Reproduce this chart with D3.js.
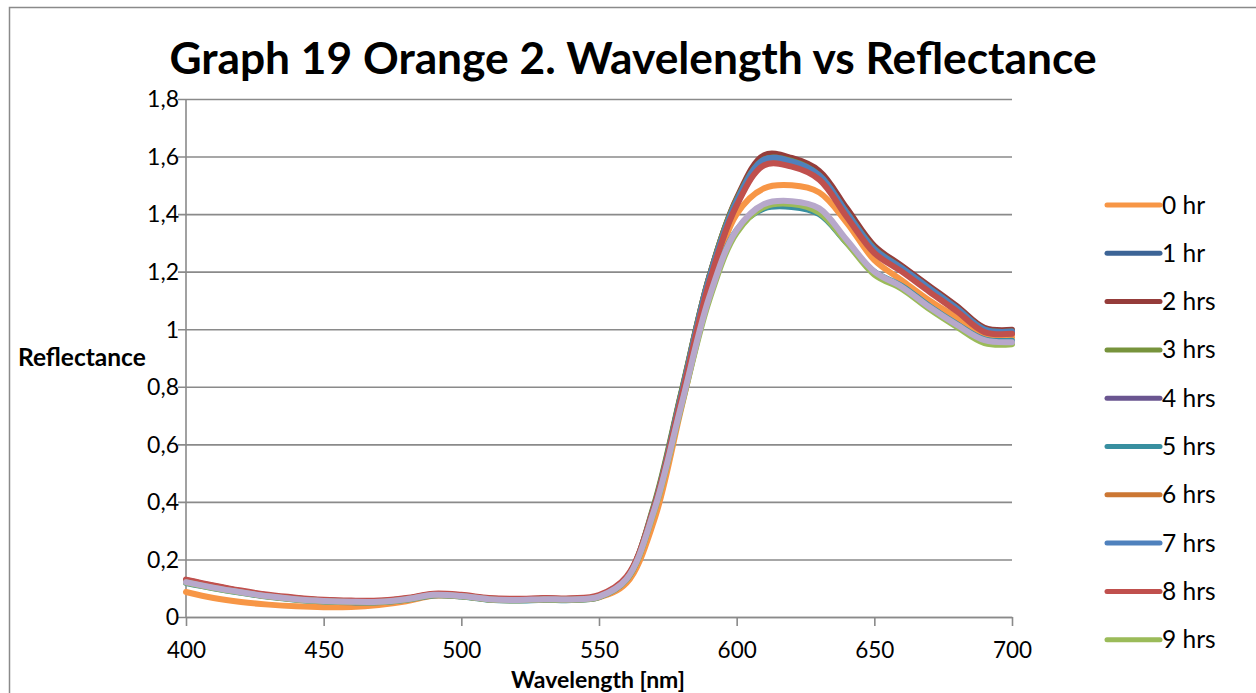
<!DOCTYPE html>
<html><head><meta charset="utf-8">
<script src="https://cdn.jsdelivr.net/npm/d3@7"></script>
<style>
html,body{margin:0;padding:0;background:#fff;}
svg{display:block;}
text{font-family:Lato, "Open Sans", sans-serif;fill:#000;}
</style></head>
<body><svg id="chart" width="1256" height="693"></svg>
<script>
const wavelengths = [400,410,420,430,440,450,460,470,480,490,500,510,520,530,540,550,560,570,580,590,600,610,620,630,640,650,660,670,680,690,700];
const seriesNames = ["0 hr","1 hr","2 hrs","3 hrs","4 hrs","5 hrs","6 hrs","7 hrs","8 hrs","9 hrs","10 hrs"];
const legendNames = ["0 hr","1 hr","2 hrs","3 hrs","4 hrs","5 hrs","6 hrs","7 hrs","8 hrs","9 hrs"];
const hr0 = [0.087,0.066,0.052,0.043,0.037,0.034,0.035,0.042,0.055,0.074,0.072,0.061,0.058,0.061,0.060,0.068,0.118,0.335,0.73,1.12,1.40,1.49,1.50,1.475,1.37,1.24,1.17,1.10,1.04,0.975,0.972];
const hr1 = [0.126,0.106,0.089,0.074,0.064,0.057,0.054,0.054,0.063,0.078,0.074,0.063,0.060,0.063,0.062,0.072,0.135,0.385,0.78,1.18,1.45,1.595,1.588,1.54,1.41,1.283,1.215,1.145,1.075,1.0,0.993];
const hr2 = [0.128,0.108,0.09,0.075,0.065,0.058,0.055,0.055,0.064,0.079,0.075,0.064,0.061,0.064,0.063,0.073,0.135,0.38,0.78,1.18,1.455,1.605,1.595,1.55,1.42,1.29,1.22,1.15,1.08,1.005,0.998];
const hr3 = [0.125,0.105,0.088,0.073,0.063,0.056,0.053,0.053,0.062,0.077,0.073,0.062,0.059,0.062,0.061,0.071,0.135,0.39,0.785,1.18,1.45,1.59,1.585,1.535,1.405,1.28,1.212,1.142,1.072,0.999,0.992];
const hr4 = [0.125,0.105,0.088,0.073,0.063,0.057,0.054,0.054,0.063,0.078,0.074,0.063,0.060,0.063,0.062,0.072,0.135,0.38,0.77,1.17,1.44,1.585,1.580,1.530,1.400,1.275,1.210,1.140,1.070,0.997,0.990];
const hr5 = [0.118,0.1,0.084,0.07,0.06,0.054,0.051,0.051,0.06,0.075,0.071,0.06,0.057,0.06,0.059,0.069,0.13,0.37,0.74,1.11,1.345,1.42,1.425,1.40,1.30,1.20,1.15,1.08,1.018,0.965,0.96];
const hr6 = [0.124,0.104,0.087,0.072,0.062,0.056,0.053,0.053,0.062,0.077,0.073,0.062,0.059,0.062,0.061,0.071,0.133,0.375,0.765,1.165,1.435,1.575,1.572,1.525,1.395,1.27,1.205,1.135,1.066,0.993,0.986];
const hr7 = [0.126,0.106,0.089,0.074,0.064,0.057,0.054,0.054,0.063,0.078,0.074,0.063,0.060,0.063,0.062,0.072,0.135,0.38,0.775,1.175,1.445,1.59,1.583,1.535,1.405,1.278,1.212,1.142,1.072,0.999,0.992];
const hr8 = [0.13,0.11,0.092,0.077,0.067,0.06,0.057,0.057,0.066,0.081,0.077,0.066,0.063,0.066,0.065,0.076,0.14,0.38,0.765,1.16,1.43,1.57,1.565,1.52,1.39,1.265,1.2,1.13,1.062,0.99,0.984];
const hr9 = [0.12,0.101,0.085,0.071,0.061,0.055,0.052,0.052,0.061,0.076,0.072,0.061,0.058,0.061,0.06,0.07,0.131,0.365,0.735,1.10,1.335,1.425,1.435,1.405,1.30,1.19,1.14,1.07,1.008,0.952,0.948];
const hr10 = [0.121,0.102,0.086,0.072,0.062,0.056,0.053,0.053,0.062,0.077,0.073,0.062,0.059,0.062,0.061,0.071,0.132,0.37,0.74,1.11,1.345,1.435,1.445,1.42,1.31,1.20,1.147,1.077,1.015,0.962,0.955];
const seriesValues = [hr0,hr1,hr2,hr3,hr4,hr5,hr6,hr7,hr8,hr9,hr10];
const colors = ["#F79646","#3C6496","#953C3A","#77933C","#6A5590","#388FA0","#CC7733","#4F81BD","#C0504D","#9BBB59","#B7A8CB"];
const yTicks = [0,0.2,0.4,0.6,0.8,1,1.2,1.4,1.6,1.8];
const xTicks = [400,450,500,550,600,650,700];
const titleText = "Graph 19 Orange 2. Wavelength vs Reflectance";
const xTitle = "Wavelength [nm]";
const yTitle = "Reflectance";

const svg = d3.select("#chart");
const W = 1256, H = 693;
const L = 186, R = 1012, T = 99, B = 617;
const x = d3.scaleLinear().domain([400,700]).range([L,R]);
const y = d3.scaleLinear().domain([0,1.8]).range([B,T]);
const loc = d3.formatLocale({decimal:",",thousands:".",grouping:[3],currency:["",""]});
const fmt = loc.format("~g");
const gray = "#8a8a8a";

// outer border
svg.append("rect").attr("x",9.5).attr("y",7.5).attr("width",W+20).attr("height",H+20)
  .attr("fill","none").attr("stroke",gray).attr("stroke-width",1.5);

// gridlines + y axis
const yAxis = d3.axisLeft(y).tickValues(yTicks).tickFormat(fmt).tickSize(-(R-L)).tickSizeOuter(0).tickPadding(7);
const gy = svg.append("g").attr("transform",`translate(${L},0)`).call(yAxis);
gy.selectAll(".tick line").attr("stroke",gray).attr("stroke-width",1.6).attr("x1",-8);
gy.select(".domain").attr("stroke",gray).attr("stroke-width",1.6).attr("d",`M0,${T}V${B}`);
gy.selectAll(".tick text").attr("font-size",23).attr("font-family","Lato, sans-serif").attr("fill","#000").attr("dy","0.34em");

// x axis
const xAxis = d3.axisBottom(x).tickValues(xTicks).tickFormat(d3.format("d")).tickSize(9).tickSizeOuter(0).tickPadding(16);
const gx = svg.append("g").attr("transform",`translate(0,${B})`).call(xAxis);
gx.selectAll(".tick line").attr("stroke",gray).attr("stroke-width",1.6);
gx.select(".domain").attr("stroke",gray).attr("stroke-width",1.6);
gx.selectAll(".tick text").attr("font-size",22.5).attr("font-family","Lato, sans-serif").attr("fill","#000");

// lines
const line = d3.line().x((d,i)=>x(wavelengths[i])).y(d=>y(d)).curve(d3.curveCatmullRom.alpha(0.5));
svg.append("g").selectAll("path").data(seriesValues).join("path")
  .attr("d",d=>line(d)).attr("fill","none")
  .attr("stroke",(d,i)=>colors[i]).attr("stroke-width",6)
  .attr("stroke-linejoin","round").attr("stroke-linecap","round");

// titles
svg.append("text").attr("x",633).attr("y",74).attr("text-anchor","middle")
  .attr("font-size",44.3).attr("font-weight","bold").text(titleText);
svg.append("text").attr("x",598).attr("y",688).attr("text-anchor","middle")
  .attr("font-size",23).attr("font-weight","bold").text(xTitle);
svg.append("text").attr("x",18).attr("y",366).attr("text-anchor","start")
  .attr("font-size",24.5).attr("font-weight","bold").text(yTitle);

// legend
const lg = svg.append("g");
legendNames.forEach((n,i)=>{
  const yy = 205 + i*48.3;
  lg.append("line").attr("x1",1107).attr("x2",1160).attr("y1",yy).attr("y2",yy)
    .attr("stroke",colors[i]).attr("stroke-width",5).attr("stroke-linecap","round");
  lg.append("text").attr("x",1162).attr("y",yy).attr("dy","0.35em").attr("font-size",24.5).text(n);
});
</script></body></html>
